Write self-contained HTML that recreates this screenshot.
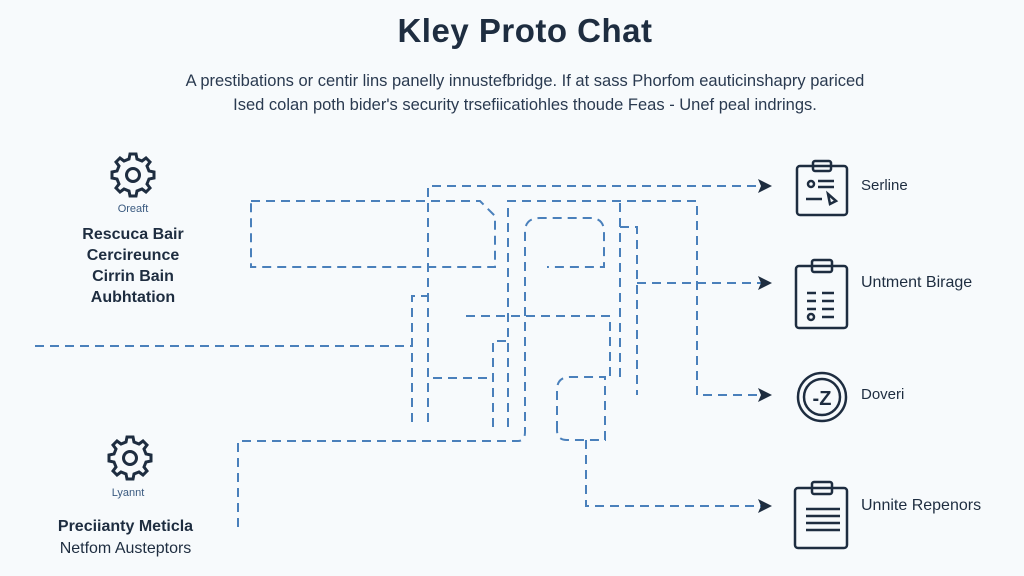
<!DOCTYPE html>
<html><head><style>
body{margin:0;width:1024px;height:576px;background:#f7fafc;overflow:hidden;font-family:"Liberation Sans",sans-serif;color:#1e2d40}
svg{position:absolute;left:0;top:0}
.t{position:absolute;white-space:nowrap}
</style></head><body>
<svg width="1024" height="576">
<defs><marker id="a" markerWidth="14" markerHeight="14" refX="12" refY="7" orient="auto" markerUnits="userSpaceOnUse"><path d="M0,0 L14,7 L0,14 L3,7z" fill="#1e2d40"/></marker></defs>
<g fill="none" stroke="#4a80bb" stroke-width="2" stroke-dasharray="9,6">
<path d="M428,422 V186 H770" marker-end="url(#a)"/>
<path d="M412,422 V296 H428"/>
<path d="M251,201 H480 L495,216 V267 H251 Z"/>
<path d="M35,346 H412"/>
<path d="M238,527 V441 H518 Q525,441 525,432 V232 Q525,218 540,218 H590 Q604,218 604,232 V267 H547"/>
<path d="M508,427 V201 H697 V395 H770" marker-end="url(#a)"/>
<path d="M493,427 V341 H508"/>
<path d="M433,378 H493"/>
<path d="M466,316 H610 V377"/>
<path d="M620,377 V201"/>
<path d="M620,227 H637 V395"/>
<path d="M637,283 H770" marker-end="url(#a)"/>
<path d="M557,430 V390 Q557,377 570,377 H605 V440 H567 Q557,440 557,430"/>
<path d="M586,440 V506 H770" marker-end="url(#a)"/>
</g>
<g fill="none" stroke="#1e2d40" stroke-width="2.5">
<g transform="translate(133,175)" stroke-width="3"><circle r="6.5"/><path d="M-3,-21 h6 l1,5 l5,2 l4,-3 l4,4 l-3,4 l2,5 l5,1 v6 l-5,1 l-2,5 l3,4 l-4,4 l-4,-3 l-5,2 l-1,5 h-6 l-1,-5 l-5,-2 l-4,3 l-4,-4 l3,-4 l-2,-5 l-5,-1 v-6 l5,-1 l2,-5 l-3,-4 l4,-4 l4,3 l5,-2z"/></g>
<g transform="translate(130,458)" stroke-width="3"><circle r="6.5"/><path d="M-3,-21 h6 l1,5 l5,2 l4,-3 l4,4 l-3,4 l2,5 l5,1 v6 l-5,1 l-2,5 l3,4 l-4,4 l-4,-3 l-5,2 l-1,5 h-6 l-1,-5 l-5,-2 l-4,3 l-4,-4 l3,-4 l-2,-5 l-5,-1 v-6 l5,-1 l2,-5 l-3,-4 l4,-4 l4,3 l5,-2z"/></g>
<rect x="797" y="166" width="50" height="49" rx="3"/><rect x="813" y="161" width="18" height="10" rx="2"/>
<circle cx="811" cy="184" r="3"/><path d="M818,181h16M818,187h16M806,199h16M828,194l8,7l-6,3z"/>
<rect x="796" y="266" width="51" height="62" rx="3"/><rect x="812" y="260" width="20" height="12" rx="2"/>
<path d="M807,293h9M822,293h12M807,301h9M822,301h12M807,309h9M822,309h12M822,317h12"/><circle cx="811" cy="317" r="3"/>
<circle cx="822" cy="397" r="24"/><circle cx="822" cy="397" r="18"/>
<rect x="795" y="488" width="52" height="60" rx="3"/><rect x="812" y="482" width="20" height="12" rx="2"/>
<path d="M806,509h34M806,516h34M806,523h34M806,530h34"/>
</g>
<text x="822" y="405" text-anchor="middle" font-family="Liberation Sans" font-size="20" font-weight="bold" fill="#1e2d40">-Z</text>
</svg>
<div class="t" style="left:0;width:1050px;text-align:center;top:12px;font-size:33px;font-weight:bold;letter-spacing:0.5px">Kley Proto Chat</div>
<div class="t" style="left:0;width:1050px;text-align:center;top:69px;font-size:16.5px;line-height:24px;color:#2a3a50">A prestibations or centir lins panelly innustefbridge. If at sass Phorfom eauticinshapry pariced<br>Ised colan poth bider's security trsefiicatiohles thoude Feas - Unef peal indrings.</div>
<div class="t" style="left:83px;width:100px;text-align:center;top:203px;font-size:11px;color:#3a5a80">Oreaft</div>
<div class="t" style="left:53px;width:160px;text-align:center;top:224px;font-size:16px;line-height:21px;font-weight:bold">Rescuca Bair<br>Cercireunce<br>Cirrin Bain<br>Aubhtation</div>
<div class="t" style="left:78px;width:100px;text-align:center;top:487px;font-size:11px;color:#3a5a80">Lyannt</div>
<div class="t" style="left:53px;width:145px;text-align:center;top:516px;font-size:16px;line-height:22px"><b>Preciianty Meticla</b><br>Netfom Austeptors</div>
<div class="t" style="left:861px;top:177px;font-size:15px">Serline</div>
<div class="t" style="left:861px;top:274px;font-size:16px">Untment Birage</div>
<div class="t" style="left:861px;top:386px;font-size:15px">Doveri</div>
<div class="t" style="left:861px;top:497px;font-size:16px">Unnite Repenors</div>
</body></html>
